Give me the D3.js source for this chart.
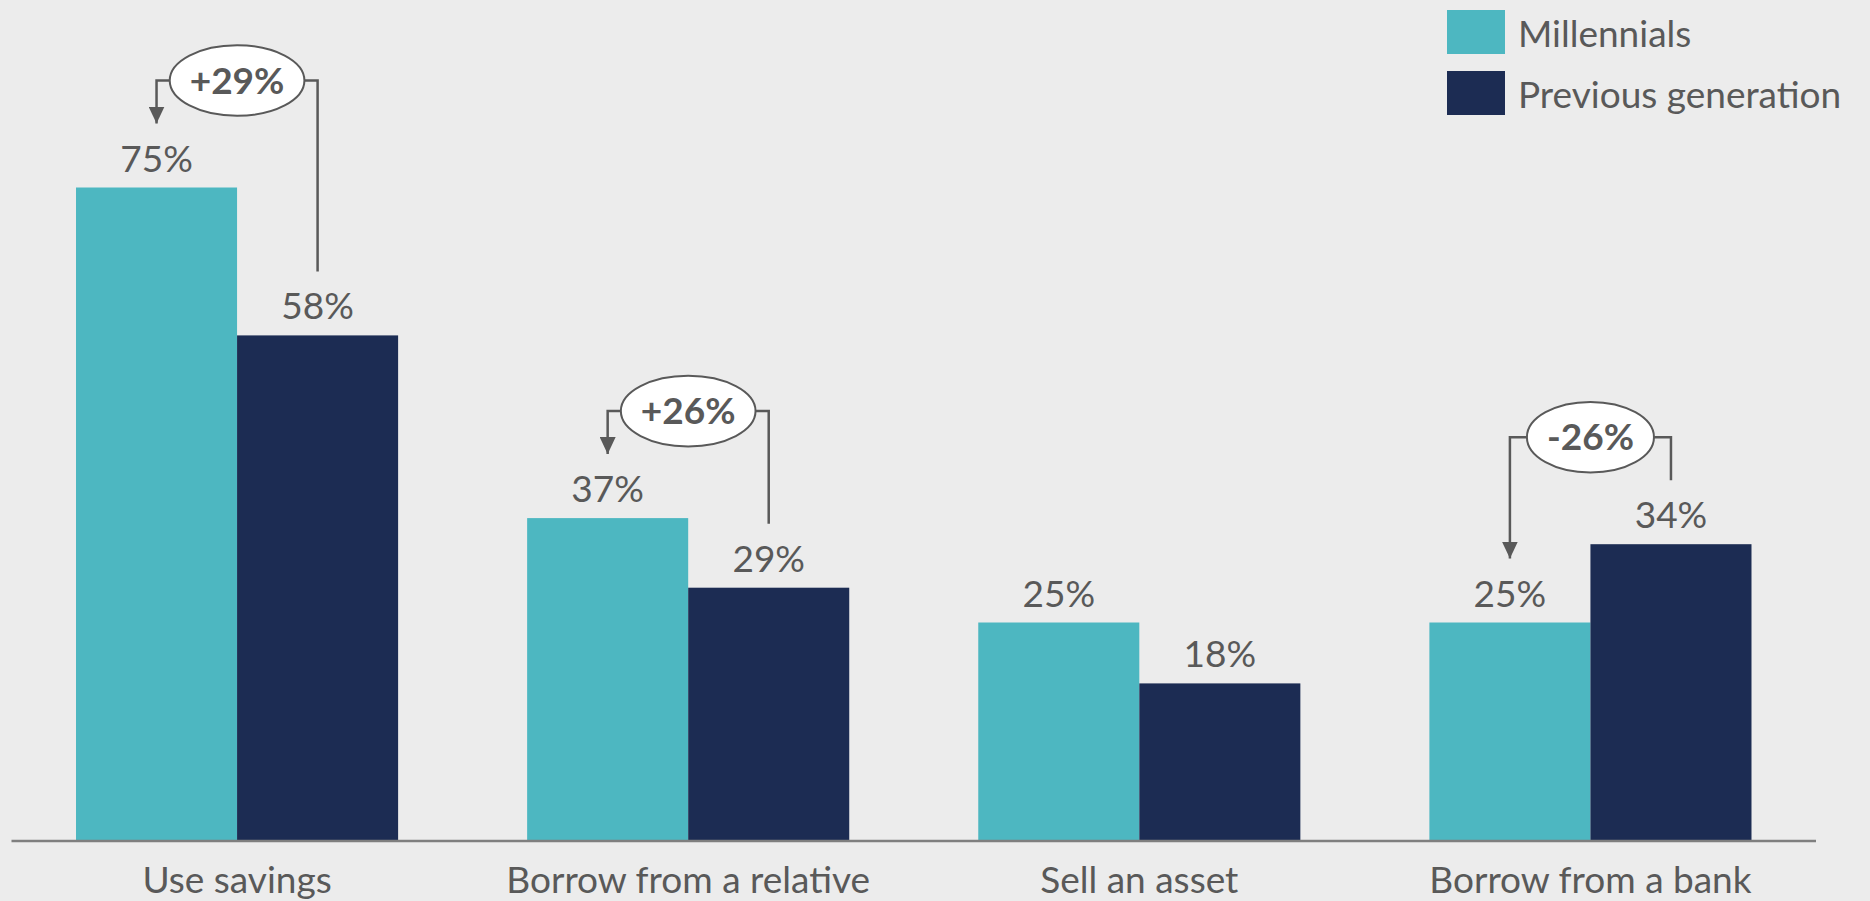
<!DOCTYPE html>
<html>
<head>
<meta charset="utf-8">
<script src="https://cdn.jsdelivr.net/npm/d3@7"></script>
<style>
  html, body { margin: 0; padding: 0; background: #ececec; }
  svg { display: block; }
  text { font-family: Lato, "Open Sans", sans-serif; fill: #595959; }
</style>
</head>
<body>
<svg id="chart" width="1870" height="901"></svg>
<script>
// Ways to cover an unexpected expense, by generation (% of respondents)
const categories = ["Use savings", "Borrow from a relative", "Sell an asset", "Borrow from a bank"];
const seriesNames = ["Millennials", "Previous generation"];
const millennials = [75, 37, 25, 25];
const previousGeneration = [58, 29, 18, 34];
const seriesColors = ["#4db7c1", "#1c2c53"];

// Difference callouts (millennials vs previous generation)
const diffCategories = ["Use savings", "Borrow from a relative", "Borrow from a bank"];
const diffLabels = ["+29%", "+26%", "-26%"];

const values = [millennials, previousGeneration];
const svg = d3.select("#chart");
const W = 1870, H = 901;
const baseY = 840;

const x = d3.scaleBand()
  .domain(categories)
  .range([11.5, 1816])
  .paddingInner(0.286)
  .paddingOuter(0.143);

const xs = d3.scaleBand()
  .domain(seriesNames)
  .range([0, x.bandwidth()]);

const y = d3.scaleLinear()
  .domain([0, 100])
  .range([baseY, baseY - 870]);

// bars
const groups = svg.append("g").selectAll("g")
  .data(categories)
  .join("g")
  .attr("transform", d => `translate(${x(d)},0)`);

groups.selectAll("rect")
  .data((c, i) => seriesNames.map((s, k) => ({ s, k, v: values[k][i] })))
  .join("rect")
  .attr("x", d => xs(d.s))
  .attr("y", d => y(d.v))
  .attr("width", xs.bandwidth())
  .attr("height", d => y(0) - y(d.v))
  .attr("fill", d => seriesColors[d.k]);

// value labels
groups.selectAll("text.val")
  .data((c, i) => seriesNames.map((s, k) => ({ s, k, v: values[k][i] })))
  .join("text")
  .attr("class", "val")
  .attr("x", d => xs(d.s) + xs.bandwidth() / 2)
  .attr("y", d => y(d.v) - 16)
  .attr("text-anchor", "middle")
  .style("font-size", "37px")
  .text(d => d.v + "%");

// baseline
svg.append("line")
  .attr("x1", x.range()[0]).attr("x2", x.range()[1])
  .attr("y1", baseY + 1).attr("y2", baseY + 1)
  .attr("stroke", "#7f7f7f")
  .attr("stroke-width", 2.5);

// category labels
svg.append("g").selectAll("text")
  .data(categories)
  .join("text")
  .attr("x", d => x(d) + x.bandwidth() / 2)
  .attr("y", 893)
  .attr("text-anchor", "middle")
  .style("font-size", "37px")
  .text(d => d);

// arrow marker
svg.append("defs").append("marker")
  .attr("id", "arrow")
  .attr("viewBox", "0 0 16 17")
  .attr("refX", 8).attr("refY", 17)
  .attr("markerWidth", 16).attr("markerHeight", 17)
  .attr("markerUnits", "userSpaceOnUse")
  .attr("orient", "0")
  .append("path")
  .attr("d", "M0,0 L16,0 L8,17 Z")
  .attr("fill", "#595959");

// difference callouts
diffCategories.forEach((cat, j) => {
  const i = categories.indexOf(cat);
  const cxA = x(cat) + xs(seriesNames[0]) + xs.bandwidth() / 2;
  const cxB = x(cat) + xs(seriesNames[1]) + xs.bandwidth() / 2;
  const topA = y(millennials[i]);
  const topB = y(previousGeneration[i]);
  const cy = Math.min(topA, topB) - 107;
  const cx = x(cat) + x.bandwidth() / 2;
  const g = svg.append("g");

  const label = g.append("text")
    .attr("x", cx).attr("y", cy + 13)
    .attr("text-anchor", "middle")
    .style("font-size", "37px")
    .style("font-weight", "bold")
    .text(diffLabels[j]);
  const tw = label.node().getComputedTextLength();
  const rx = tw / 2 + 20, ry = 35.3;

  g.insert("path", "text")
    .attr("d", `M${cx - rx},${cy} H${cxA} V${topA - 64}`)
    .attr("fill", "none")
    .attr("stroke", "#595959")
    .attr("stroke-width", 2.5)
    .attr("marker-end", "url(#arrow)");
  g.insert("path", "text")
    .attr("d", `M${cx + rx},${cy} H${cxB} V${topB - 64}`)
    .attr("fill", "none")
    .attr("stroke", "#595959")
    .attr("stroke-width", 2.5);
  g.insert("ellipse", "text")
    .attr("cx", cx).attr("cy", cy)
    .attr("rx", rx).attr("ry", ry)
    .attr("fill", "#ffffff")
    .attr("stroke", "#595959")
    .attr("stroke-width", 2);
});

// legend
const legend = svg.append("g").selectAll("g")
  .data(seriesNames)
  .join("g")
  .attr("transform", (d, i) => `translate(1447,${10 + i * 61})`);
legend.append("rect")
  .attr("width", 58).attr("height", 44)
  .attr("fill", (d, i) => seriesColors[i]);
legend.append("text")
  .attr("x", 71).attr("y", 37)
  .style("font-size", "37px")
  .text(d => d);
</script>
</body>
</html>
